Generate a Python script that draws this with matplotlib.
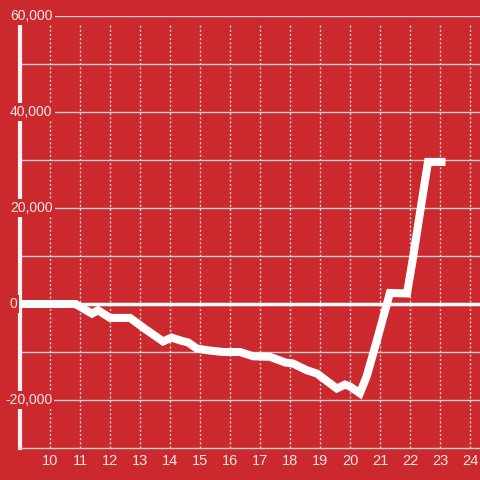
import numpy as np
import matplotlib.pyplot as plt

# valeurs
hours = [9, 10.85, 11.4, 11.6, 12.0, 12.67, 13.17, 13.77, 14.05, 14.4, 14.6,
         14.9, 15.33, 15.77, 16.33, 16.78, 17.33, 17.85, 18.1, 18.56, 18.9,
         19.56, 19.83, 20.0, 20.33, 20.56, 20.9, 21.33, 21.9, 22.1, 22.4,
         22.6, 23.05]
values = [0, 0, -2000, -1300, -2900, -2900, -5200, -7800, -7000, -7700, -8000,
          -9300, -9700, -10000, -10000, -10900, -11000, -12200, -12400, -13800, -14500,
          -17600, -16800, -17200, -18600, -15000, -7500, 2300, 2200, 9600, 21700,
          29600, 29600]

x_ticks = list(range(10, 25))
y_labels = [60000, 40000, 20000, 0, -20000]
y_grid = list(range(-20000, 60001, 10000))

bg = "#cc292e"
grid_col = "#cfcfcf"
txt_col = "#f3e6e6"

plt.rcParams["font.family"] = ["Liberation Sans", "DejaVu Sans"]

fig = plt.figure(figsize=(4.8, 4.8), dpi=100, facecolor=bg)
ax = fig.add_axes([20 / 480, 32 / 480, 460 / 480, 432 / 480])
ax.set_facecolor(bg)
ax.set_xlim(9, 9 + 460 / 30)
ax.set_ylim(-30000, 60000)

# grille
for y in y_grid:
    if y == 0:
        continue
    ax.axhline(y, color=grid_col, lw=1, zorder=1)
for x in x_ticks:
    ax.plot([x, x], [-30000, 58500], color=grid_col, lw=1, ls=(0, (1.5, 1.5)), zorder=1)
ax.axhline(0, color="white", lw=2.5, zorder=2)

# courbe
ax.plot(hours, values, color="white", lw=5.8, solid_joinstyle="miter",
        solid_capstyle="projecting", zorder=4)

# axes
for s in ["top", "right"]:
    ax.spines[s].set_visible(False)
ax.spines["bottom"].set_color(grid_col)
ax.spines["bottom"].set_linewidth(1)
ax.spines["left"].set_color("#f2f2f2")
ax.spines["left"].set_linewidth(3)
ax.spines["left"].set_bounds(-30000, 58500)

ax.set_yticks([])
ax.set_xticks(x_ticks)
ax.set_xticklabels([str(x) for x in x_ticks], color=txt_col, fontsize=10.5)
ax.tick_params(axis="x", length=0, pad=4)

# étiquettes de l'axe y posées sur la grille
for y in y_labels:
    if y < 0:
        x0 = -15
    elif y == 0:
        x0 = -11
    else:
        x0 = -10
    ax.text(x0 / 460, y, f"{y:,}", transform=ax.get_yaxis_transform(),
            ha="left", va="center", color=txt_col, fontsize=10, zorder=3,
            bbox=dict(facecolor=bg, edgecolor="none", pad=1.5))

plt.savefig("out.png", dpi=100, facecolor=bg)
